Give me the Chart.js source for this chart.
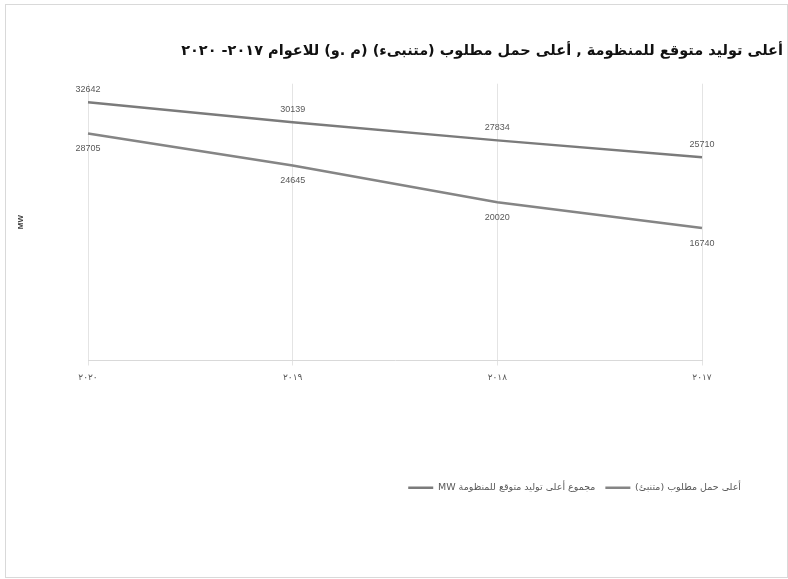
<!DOCTYPE html>
<html>
<head>
<meta charset="utf-8">
<script src="https://cdn.jsdelivr.net/npm/chart.js@4"></script>
<style>
  html, body { margin: 0; padding: 0; background: #fff; }
  #box {
    position: absolute; left: 5px; top: 4px;
    width: 781px; height: 572px;
    border: 1px solid #d9d9d9;
  }
  canvas { display: block; }
</style>
</head>
<body>
<div id="box"><canvas id="c" width="781" height="572" dir="rtl"></canvas></div>
<script>
// years, shown right-to-left on the axis
const years = ['٢٠١٧', '٢٠١٨', '٢٠١٩', '٢٠٢٠'];
// مجموع أعلى توليد متوقع للمنظومة MW
const generation = [25710, 27834, 30139, 32642];
// أعلى حمل مطلوب (متنبئ)
const peakLoad = [16740, 20020, 24645, 28705];

const genLabel = 'مجموع أعلى توليد متوقع للمنظومة MW';
const loadLabel = 'أعلى حمل مطلوب (متنبئ)';
const titleText = 'أعلى توليد متوقع للمنظومة , أعلى حمل مطلوب (متنبىء) (م .و) للاعوام ٢٠١٧- ٢٠٢٠';

const numFont = "'Liberation Sans', 'DejaVu Sans', sans-serif";
const arFont = "'DejaVu Sans', sans-serif";

// value labels, above the upper line and under the lower one
const valueLabels = {
  id: 'valueLabels',
  afterDatasetsDraw(chart) {
    const ctx = chart.ctx;
    ctx.save();
    ctx.font = '9px ' + numFont;
    ctx.fillStyle = '#595959';
    ctx.textAlign = 'center';
    ctx.textBaseline = 'middle';
    chart.data.datasets.forEach(function (ds, i) {
      const meta = chart.getDatasetMeta(i);
      const dy = i === 0 ? -13 : 15;
      meta.data.forEach(function (pt, j) {
        ctx.fillText(String(ds.data[j]), pt.x, pt.y + dy);
      });
    });
    ctx.restore();
  }
};

// the legend sits a bit in from the right edge, the title does not
const legendRight = {
  id: 'legendRight',
  afterLayout(chart) {
    if (chart.legend) chart.legend.right = 745;
  }
};

new Chart(document.getElementById('c'), {
  type: 'line',
  data: {
    labels: years,
    datasets: [
      {
        label: genLabel,
        data: generation,
        borderColor: '#7b7b7b',
        backgroundColor: '#7b7b7b',
        borderWidth: 2.5,
        pointRadius: 0,
        tension: 0
      },
      {
        label: loadLabel,
        data: peakLoad,
        borderColor: '#858585',
        backgroundColor: '#858585',
        borderWidth: 2.5,
        pointRadius: 0,
        tension: 0
      }
    ]
  },
  options: {
    responsive: false,
    animation: false,
    layout: { padding: { left: 0, right: 4, top: 0, bottom: 74.5 } },
    scales: {
      x: {
        reverse: true,
        offset: false,
        grid: { display: true, color: '#e4e4e4', tickLength: 5 },
        border: { display: true, color: '#d9d9d9' },
        ticks: { color: '#595959', padding: 7, font: { size: 9, family: arFont } },
        afterFit(scale) { scale.height = 112.5; }
      },
      y: {
        min: 0,
        max: 35000,
        grid: { display: false },
        border: { display: false },
        ticks: { display: false },
        title: {
          display: true,
          text: 'MW',
          color: '#404040',
          padding: { top: 10, bottom: 0 },
          font: { size: 8, weight: 'bold', family: numFont }
        },
        afterFit(scale) { scale.width = 82; }
      },
      y2: {
        position: 'right',
        grid: { display: false },
        border: { display: false },
        ticks: { display: false },
        afterFit(scale) { scale.width = 81; }
      }
    },
    plugins: {
      title: {
        display: true,
        text: titleText,
        align: 'end',
        color: '#111',
        padding: { top: 37.6, bottom: 23.7 },
        font: { size: 14.5, weight: 'bold', family: arFont }
      },
      legend: {
        position: 'bottom',
        align: 'end',
        labels: {
          usePointStyle: true,
          pointStyle: 'line',
          pointStyleWidth: 25,
          color: '#595959',
          padding: 10,
          font: { size: 9.5, family: arFont }
        }
      },
      tooltip: { enabled: false }
    }
  },
  plugins: [valueLabels, legendRight]
});
</script>
</body>
</html>
